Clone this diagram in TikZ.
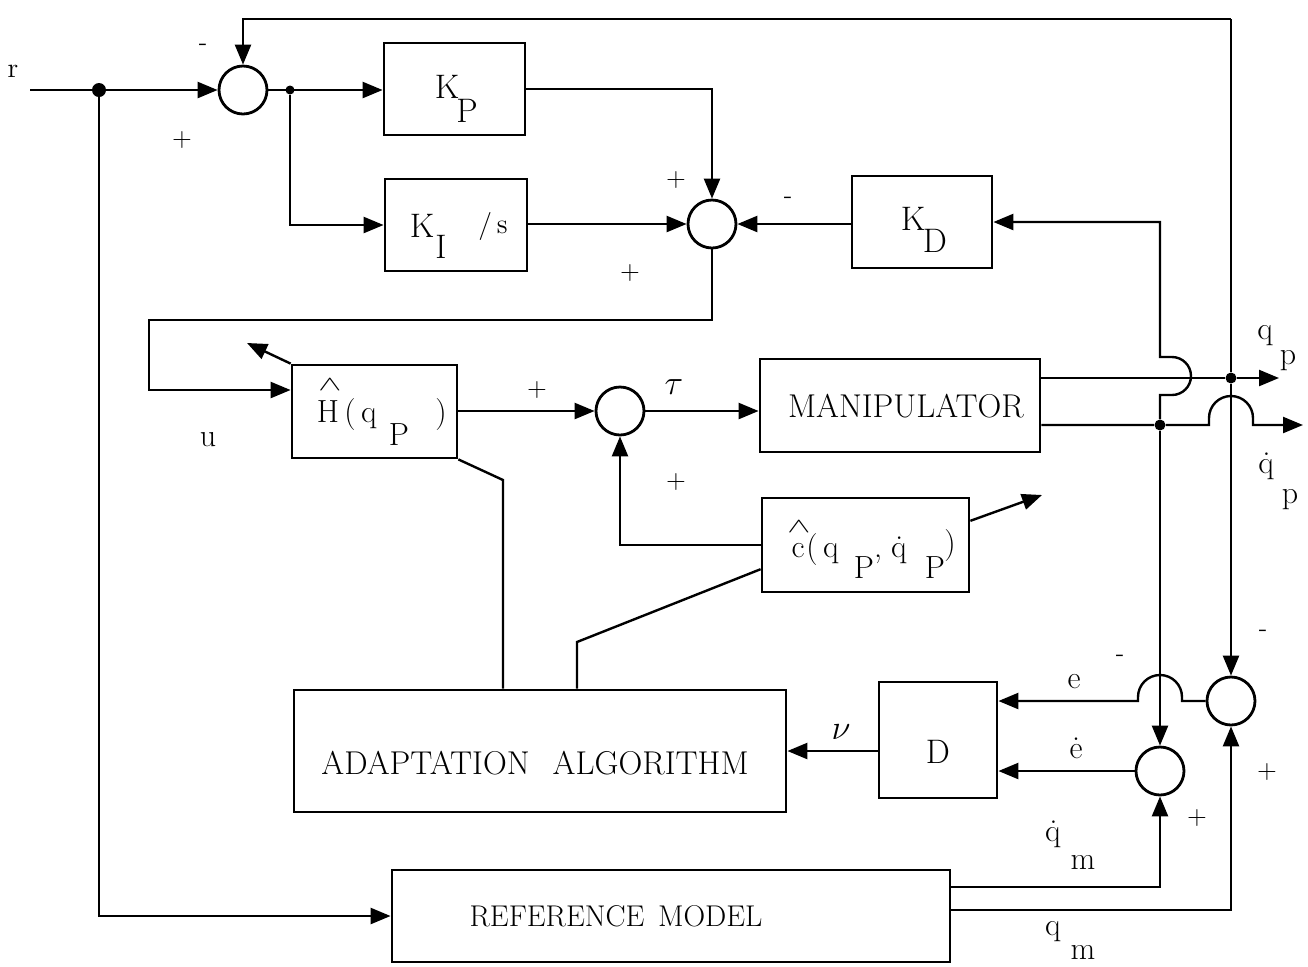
\documentclass[tikz,border=0pt]{standalone}
\usepackage{graphicx}
\usetikzlibrary{arrows.meta,calc}
\newcommand{\gl}[3]{\makebox[0pt][l]{\hspace*{#1pt}\raisebox{#2pt}{\makebox[0pt]{#3}}}}
\newcommand{\hatw}{\scalebox{1}[0.6]{$\wedge$}}
\begin{document}
\begin{tikzpicture}[x=0.5pt,y=-0.5pt,
  blk/.style={draw, line width=1.4pt, inner sep=0pt},
  sumj/.style={draw, circle, line width=1.4pt, minimum size=24pt, inner sep=0pt},
  ln/.style={line width=1.2pt},
  arr/.style={line width=1.2pt, -{Triangle[length=10pt,width=8pt]}},
  jdot/.style={circle, fill, inner sep=0pt, minimum size=#1},
  sg/.style={font=\fontsize{13}{15}\selectfont, inner sep=0pt},
  lb/.style={font=\fontsize{16}{19}\selectfont, inner sep=0pt},
  captxt/.style={font=\fontsize{16.5}{19}\selectfont, inner sep=0pt}]
\useasboundingbox (0,0) rectangle (1308,966);

% summing junctions
\node[sumj] (s1) at (243,90) {};
\node[sumj] (s2) at (712,224) {};
\node[sumj] (st) at (620,411) {};
\node[sumj] (se) at (1231,701) {};
\node[sumj] (sed) at (1160,771) {};

% blocks
\node[blk, minimum width=70.5pt, minimum height=46pt] (kp) at (454.5,89) {};
\node[blk, minimum width=71pt, minimum height=46pt] (ki) at (456,225) {};
\node[blk, minimum width=70pt, minimum height=46pt] (kd) at (922,222) {};
\node[blk, minimum width=82.5pt, minimum height=46.5pt] (hb) at (374.5,411.5) {};
\node[blk, minimum width=140pt, minimum height=46.5pt] (man) at (900,405.5) {};
\node[blk, minimum width=103.5pt, minimum height=47pt] (cb) at (865.5,545) {};
\node[blk, minimum width=246pt, minimum height=61pt] (ad) at (540,751) {};
\node[blk, minimum width=59pt, minimum height=58pt] (db) at (938,740) {};
\node[blk, minimum width=279pt, minimum height=46pt] (rm) at (671,916) {};

% block texts
\node[captxt] (mantxt) at (906,406) {MANIPULATOR};
\node[captxt] (adtxt) at (535,763) {ADAPTATION\hspace{0.7em}ALGORITHM};
\node[captxt, font=\fontsize{15}{18}\selectfont] (rmtxt) at (616,916) {REFERENCE\hspace{0.45em}MODEL};
\node[lb, font=\fontsize{17}{20}\selectfont] (dtxt) at (938,752) {D};
\node[lb, font=\fontsize{17}{20}\selectfont, anchor=base] (kplbl) at (447,98) {\gl{0}{0}{K}\gl{10}{-12}{P}};
\node[lb, font=\fontsize{17}{20}\selectfont, anchor=base] (kilbl) at (422,237) {\gl{0}{0}{K}\gl{9.5}{-10.5}{I}};
\node[lb, font=\fontsize{14}{16}\selectfont] (slbl) at (493,226) {/\,s};
\node[lb, font=\fontsize{17}{20}\selectfont, anchor=base] (kdlbl) at (913,230) {\gl{0}{0}{K}\gl{11}{-11}{D}};
\node[lb, anchor=base] (hlbl) at (328,422) {\gl{0}{0}{H}\gl{1}{16}{\hatw}\gl{11}{0}{(}\gl{20.5}{0}{q}\gl{35.5}{-11.5}{P}\gl{56.5}{0}{)}};
\node[lb, anchor=base] (clbl) at (798,557) {\gl{0}{0}{c}\gl{0.5}{12.5}{\hatw}\gl{7}{0}{(}\gl{16.5}{0}{q}\gl{33}{-10.5}{P}\gl{40}{0}{,}\gl{50.5}{0}{\.q}\gl{68.5}{-10.5}{P}\gl{76}{2}{)}};

% signs
\node[sg] (m1) at (203,47) {-};
\node[sg] (p1) at (182,140) {+};
\node[sg] (p2) at (676,180) {+};
\node[sg] (p3) at (630,273) {+};
\node[sg] (m2) at (788,200) {-};
\node[sg] (p4) at (537,390) {+};
\node[sg] (p5) at (676,482) {+};
\node[sg] (m3) at (1120,658) {-};
\node[sg] (m4) at (1263,633) {-};
\node[sg] (p6) at (1267,772) {+};
\node[sg] (p7) at (1197,818) {+};

% signal labels
\node[lb, font=\fontsize{14}{16}\selectfont] (rlbl) at (13,71) {r};
\node[lb] (tau) at (674,387) {$\tau$};
\node[lb] (nu) at (841,732) {$\nu$};
\node[lb] (ulbl) at (208,440) {u};
\node[lb] (elbl) at (1074,682) {e};
\node[lb] (edlbl) at (1076,748) {\.e};
\node[lb] (qp1) at (1265,336) {q};
\node[lb] (qp2) at (1288,361) {p};
\node[lb] (qdp1) at (1266,466) {\.q};
\node[lb] (qdp2) at (1290,500) {p};
\node[lb] (qdm1) at (1053,834) {\.q};
\node[lb] (qdm2) at (1083,862) {m};
\node[lb] (qm1) at (1053,932) {q};
\node[lb] (qm2) at (1083,952) {m};

% junction dots and free ends
\coordinate (rin) at (30,90);
\node[jdot=7pt] (j1) at (99,90) {};
\node[jdot=4.5pt] (j2) at (290,90) {};
\node[jdot=5.5pt] (jq) at (1231,378) {};
\node[jdot=5.5pt] (jqd) at (1160,425) {};
\coordinate (u1) at (149,320);
\coordinate (u2) at (149,390);
\coordinate (hadj) at (247,343);
\coordinate (hk) at (503,480);
\coordinate (ck) at (577,642);
\coordinate (cout) at (1042,495);
\coordinate (topR) at (1231,19);
\coordinate (qpend) at (1279,378);
\coordinate (qdend) at (1303,425);
\coordinate (qdm) at (1160,887);
\coordinate (qm) at (1231,910);

% connectors
\draw[arr] (rin) -- (s1.west);
\draw[arr] (j1) |- (rm.west);
\draw[arr] (s1.east) -- (kp.west |- s1.east);
\draw[arr] (j2) |- (ki.west);
\draw[arr] (kp.east) -| (s2.north);
\draw[arr] (ki.east |- s2.west) -- (s2.west);
\draw[arr] (kd.west |- s2.east) -- (s2.east);
\draw[arr] (s2.south) |- (u1) -- (u2) -- (hb.west |- u2);
\draw[arr] (hb.north west) -- (hadj);
\draw[arr] (hb.east |- st.west) -- (st.west);
\draw[arr] (st.east) -- (man.west |- st.east);
\draw[arr] (cb.west) -| (st.south);
\draw[ln] (hb.south east) -- (hk) -- (hk |- ad.north);
\draw[ln] ($(cb.west)!0.5!(cb.south west)$) -- (ck) -- (ck |- ad.north);
\draw[arr] ($(cb.east)!0.5!(cb.north east)$) -- (cout);
\draw[arr] (topR) -| (s1.north);
\draw[ln] (topR) -- (jq);
\draw[arr] (jq) -- (se.north);
\draw[arr] (man.east |- jq) -- (jq) -- (qpend);
\draw[arr] (man.east |- jqd) -- (jqd) -- (1209,425) -- (1209,418) arc[start angle=180,end angle=360,radius=22] -- (1253,425) -- (qdend);
\draw[arr] (jqd) -- (1160,395) -- (1172,395) arc[start angle=90,end angle=-90,radius=19] -- (1160,357) |- (kd.east);
\draw[arr] (jqd) -- (sed.north);
\draw[arr] (se.west) -- (1182,701) -- (1182,697) arc[start angle=0,end angle=-180,radius=22] -- (1138,697) -- (1138,701) -- (db.east |- se.west);
\draw[arr] (sed.west) -- (db.east |- sed.west);
\draw[arr] (db.west |- ad.east) -- (ad.east);
\draw[arr] (rm.east |- qdm) -- (qdm) -- (sed.south);
\draw[arr] (rm.east |- qm) -- (qm) -- (se.south);
\end{tikzpicture}
\end{document}
